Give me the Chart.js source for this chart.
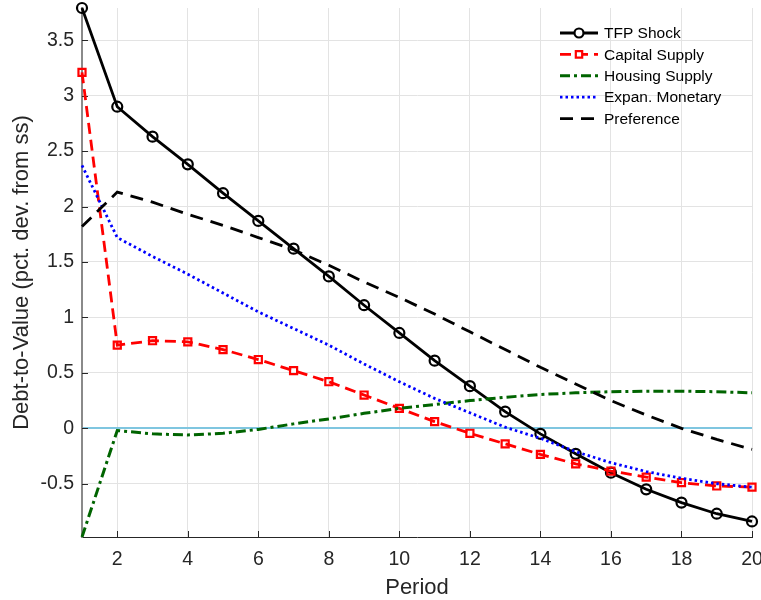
<!DOCTYPE html>
<html>
<head>
<meta charset="utf-8">
<title>Debt-to-Value responses</title>
<script src="https://cdn.jsdelivr.net/npm/chart.js@4.4.1/dist/chart.umd.min.js"></script>
<style>
  body { margin: 0; background: #ffffff; }
  #wrap { width: 761px; height: 600px; }
</style>
</head>
<body>
<div id="wrap"><canvas id="dtvChart" width="761" height="600"></canvas></div>
<script>
// Data
const periods = [1, 2, 3, 4, 5, 6, 7, 8, 9, 10, 11, 12, 13, 14, 15, 16, 17, 18, 19, 20];
const tfpShock = [3.79, 2.90, 2.63, 2.38, 2.12, 1.87, 1.62, 1.37, 1.11, 0.86, 0.61, 0.38, 0.15, -0.05, -0.23, -0.40, -0.55, -0.67, -0.77, -0.84];
const capitalSupply = [3.21, 0.75, 0.79, 0.78, 0.71, 0.62, 0.52, 0.42, 0.30, 0.18, 0.06, -0.045, -0.14, -0.235, -0.32, -0.385, -0.44, -0.49, -0.52, -0.53];
const housingSupply = [-0.98, -0.02, -0.05, -0.06, -0.045, -0.01, 0.04, 0.085, 0.135, 0.18, 0.215, 0.25, 0.28, 0.305, 0.32, 0.33, 0.335, 0.335, 0.33, 0.32];
const expanMonetary = [2.37, 1.72, 1.55, 1.39, 1.22, 1.05, 0.90, 0.75, 0.58, 0.42, 0.27, 0.14, 0.01, -0.09, -0.21, -0.31, -0.39, -0.45, -0.50, -0.53];
const preference = [1.82, 2.13, 2.04, 1.93, 1.83, 1.72, 1.61, 1.47, 1.32, 1.18, 1.03, 0.87, 0.71, 0.55, 0.40, 0.25, 0.12, 0.0, -0.10, -0.19];

const xTicks = [2, 4, 6, 8, 10, 12, 14, 16, 18, 20];
const yTicks = [-0.5, 0, 0.5, 1, 1.5, 2, 2.5, 3, 3.5];

const FONT = "'Liberation Sans', Arial, Helvetica, sans-serif";
const TEXT = "#262626";

function pts(values) {
  return periods.map((p, i) => ({ x: p, y: values[i] }));
}

// legend drawn inside the axes, like the original figure
const insideLegend = {
  id: "insideLegend",
  afterDraw(chart) {
    const ctx = chart.ctx;
    const x0 = 560, x1 = 598, textX = 604;
    let y = 33;
    ctx.save();
    chart.data.datasets.forEach((ds) => {
      ctx.strokeStyle = ds.borderColor;
      ctx.lineWidth = ds.borderWidth;
      ctx.setLineDash(ds.borderDash || []);
      ctx.beginPath();
      ctx.moveTo(x0, y);
      ctx.lineTo(x1, y);
      ctx.stroke();
      ctx.setLineDash([]);
      if (ds.pointRadius > 0) {
        ctx.lineWidth = ds.pointBorderWidth;
        ctx.fillStyle = "#ffffff";
        Chart.helpers.drawPoint(ctx, {
          pointStyle: ds.pointStyle,
          radius: ds.pointRadius - 0.5,
          borderWidth: ds.pointBorderWidth
        }, (x0 + x1) / 2, y);
      }
      ctx.fillStyle = "#000000";
      ctx.font = "15.5px " + FONT;
      ctx.textBaseline = "middle";
      ctx.fillText(ds.label, textX, y + 1);
      y += 21.4;
    });
    ctx.restore();
  }
};

// small inward tick marks (MATLAB style)
const innerTicks = {
  id: "innerTicks",
  beforeDatasetsDraw(chart) {
    const { ctx, chartArea, scales } = chart;
    ctx.save();
    ctx.strokeStyle = TEXT;
    ctx.lineWidth = 1;
    ctx.beginPath();
    xTicks.forEach((v) => {
      const px = Math.round(scales.x.getPixelForValue(v)) + 0.5;
      ctx.moveTo(px, chartArea.bottom);
      ctx.lineTo(px, chartArea.bottom - 6);
    });
    yTicks.forEach((v) => {
      const py = Math.round(scales.y.getPixelForValue(v)) + 0.5;
      ctx.moveTo(chartArea.left, py);
      ctx.lineTo(chartArea.left + 6, py);
    });
    ctx.stroke();
    ctx.restore();
  }
};

const ctx = document.getElementById("dtvChart").getContext("2d");
const dtvChart = new Chart(ctx, {
  type: "line",
  data: {
    datasets: [
      {
        label: "TFP Shock",
        data: pts(tfpShock),
        borderColor: "#000000",
        borderWidth: 2.8,
        pointStyle: "circle",
        pointRadius: 5,
        pointBorderWidth: 2.2,
        pointBorderColor: "#000000",
        pointBackgroundColor: "rgba(0,0,0,0)",
        order: 5
      },
      {
        label: "Capital Supply",
        data: pts(capitalSupply),
        borderColor: "#ff0000",
        borderWidth: 2.8,
        borderDash: [11, 6],
        pointStyle: "rect",
        pointRadius: 5,
        pointBorderWidth: 2.2,
        pointBorderColor: "#ff0000",
        pointBackgroundColor: "rgba(0,0,0,0)",
        order: 4
      },
      {
        label: "Housing Supply",
        data: pts(housingSupply),
        borderColor: "#006400",
        borderWidth: 3,
        borderDash: [10, 4, 3, 4],
        pointRadius: 0,
        order: 3
      },
      {
        label: "Expan. Monetary",
        data: pts(expanMonetary),
        borderColor: "#0000ff",
        borderWidth: 2.8,
        borderDash: [2.5, 3],
        pointRadius: 0,
        order: 2
      },
      {
        label: "Preference",
        data: pts(preference),
        borderColor: "#000000",
        borderWidth: 2.8,
        borderDash: [13, 8],
        pointRadius: 0,
        order: 1
      }
    ]
  },
  options: {
    responsive: false,
    animation: false,
    devicePixelRatio: 1,
    clip: false,
    layout: { padding: { top: 8, right: 9, left: 0, bottom: 0 } },
    elements: { line: { tension: 0, fill: false } },
    plugins: {
      legend: { display: false },
      tooltip: { enabled: false }
    },
    scales: {
      x: {
        type: "linear",
        min: 1,
        max: 20,
        afterBuildTicks: (scale) => {
          scale.ticks = xTicks.map((v) => ({ value: v }));
        },
        afterFit: (scale) => {
          scale.height = 63;
          scale.paddingLeft = 0;
          scale.paddingRight = 9;
        },
        ticks: {
          padding: 11,
          color: TEXT,
          font: { family: FONT, size: 19.5 },
          callback: (v) => String(v)
        },
        grid: { color: "#e3e3e3", lineWidth: 1, drawTicks: false },
        border: { color: TEXT, width: 1 },
        title: {
          display: true,
          text: "Period",
          color: TEXT,
          padding: { top: 0, bottom: 0 },
          font: { family: FONT, size: 22, lineHeight: 1.1 }
        }
      },
      y: {
        type: "linear",
        min: -0.98,
        max: 3.79,
        afterBuildTicks: (scale) => {
          scale.ticks = yTicks.map((v) => ({ value: v }));
        },
        afterFit: (scale) => {
          scale.width = 82;
          scale.paddingTop = 0;
          scale.paddingBottom = 0;
        },
        ticks: {
          padding: 8,
          color: TEXT,
          font: { family: FONT, size: 19.5 },
          callback: (v) => String(v)
        },
        grid: {
          drawTicks: false,
          color: (c) => (c.tick && c.tick.value === 0 ? "#7fc6e0" : "#e3e3e3"),
          lineWidth: (c) => (c.tick && c.tick.value === 0 ? 2 : 1)
        },
        border: { color: "#8a8a8a", width: 2 },
        title: {
          display: true,
          text: "Debt-to-Value (pct. dev. from ss)",
          color: TEXT,
          padding: { top: 9, bottom: 0 },
          font: { family: FONT, size: 22 }
        }
      }
    }
  },
  plugins: [innerTicks, insideLegend]
});
</script>
</body>
</html>
